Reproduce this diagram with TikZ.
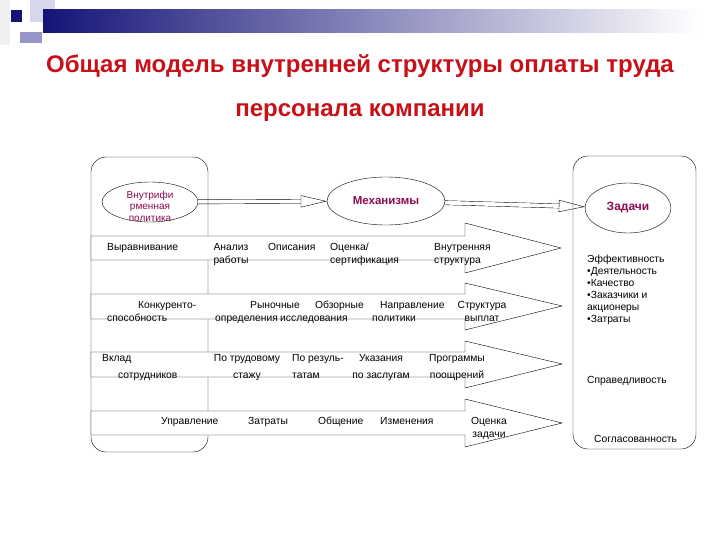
\documentclass[tikz,border=0pt]{standalone}
\usepackage{fontspec}
\setmainfont{Liberation Sans}
\usetikzlibrary{shapes.geometric,arrows.meta}
\definecolor{titlered}{RGB}{200,16,24}
\definecolor{magtext}{RGB}{139,10,80}
\definecolor{navyband}{RGB}{20,20,120}
\definecolor{midband}{RGB}{165,165,190}
\definecolor{lavender}{RGB}{215,215,235}
\definecolor{greyblue}{RGB}{150,150,200}
\begin{document}
\begin{tikzpicture}[x=1pt, y=-1pt,
    lbl/.style={font=\fontsize{10.3}{13}\selectfont, inner sep=0pt, anchor=base west, align=left},
    oval/.style={draw, ellipse, inner sep=0pt, text=magtext},
    frame/.style={draw, rounded corners=15pt},
    rowarrow/.style={draw, fill=white},
    hollow/.style={double, double distance=3.8pt, -{Triangle[open, length=26pt, width=12pt]}}]
    \useasboundingbox (0,0) rectangle (720,540);

    % Оформление слайда
    \fill[gray!12] (0,0) rectangle (10,45);
    \fill[lavender] (30,0) rectangle (55,22);
    \shade[left color=navyband, middle color=midband, right color=white] (43,10) rectangle (700,33);
    \fill[navyband] (11,10) rectangle (22,22);
    \fill[greyblue] (20,32) rectangle (42,43);

    % Заголовок
    \node[font=\fontsize{24}{28}\bfseries, text=titlered] (title1) at (360,66) {Общая модель внутренней структуры оплаты труда};
    \node[font=\fontsize{24}{28}\bfseries, text=titlered] (title2) at (360,113) {персонала компании};

    % Овалы
    \node[oval, minimum width=96pt, minimum height=40pt] (pol) at (150,202) {};
    \node[text=magtext, align=center, inner sep=0pt, font=\fontsize{10}{11.5}\selectfont] (poltext) at (150,206) {Внутрифи\\рменная\\политика};
    \node[oval, minimum width=118pt, minimum height=48pt, font=\fontsize{11.5}{13}\bfseries] (mech) at (386,201) {Механизмы};
    \node[oval, minimum width=86pt, minimum height=50pt, font=\fontsize{12}{14}\bfseries] (task) at (628,208) {Задачи};

    % Полые стрелки
    \draw[hollow] (pol) -- (mech);
    \draw[hollow] (mech) -- (task);

    % Рамки
    \draw[frame] (91,157) rectangle (208,452);
    \draw[frame] (573,156) rectangle (696,449);

    % Широкие стрелки
    \draw[rowarrow] (91,236) -- (465,236) -- (465,223) -- (561,248) -- (465,273) -- (465,260) -- (91,260) -- cycle;
    \draw[rowarrow] (91,294) -- (465,294) -- (465,283) -- (562,306) -- (465,330) -- (465,319) -- (91,319) -- cycle;
    \draw[rowarrow] (91,352) -- (465,352) -- (465,341) -- (562,364) -- (465,388) -- (465,377) -- (91,377) -- cycle;
    \draw[rowarrow] (91,411) -- (465,411) -- (465,399) -- (562,423) -- (465,447) -- (465,435) -- (91,435) -- cycle;

    % Ряд 1
    \node[lbl] (align) at (107,250) {Выравнивание};
    \node[lbl, anchor=base, align=center] (jobs) at (231,263) {Анализ\\работы};
    \node[lbl] (descr) at (268,250) {Описания};
    \node[lbl] (cert) at (330,263) {Оценка/\\сертификация};
    \node[lbl] (inner) at (434,263) {Внутренняя\\структура};

    % Ряд 2
    \node[lbl] (comp) at (107,321.5) {\hspace*{31pt}Конкуренто-\\способность};
    \node[lbl] (market) at (215,321.5) {\hspace*{35pt}Рыночные\\определения};
    \node[lbl] (survey) at (280,321.5) {\hspace*{35pt}Обзорные\\исследования};
    \node[lbl] (direct) at (372,321.5) {\hspace*{8pt}Направление\\политики};
    \node[lbl, anchor=base, align=center] (pay) at (482,321.5) {Структура\\выплат};

    % Ряд 3
    \node[lbl, font=\fontsize{10.3}{16.5}\selectfont] (contrib) at (102,378) {Вклад\\\hspace*{16pt}сотрудников};
    \node[lbl, font=\fontsize{10.3}{16.5}\selectfont, anchor=base, align=center] (senior) at (247,378) {По трудовому\\стажу};
    \node[lbl, font=\fontsize{10.3}{16.5}\selectfont] (result) at (292,378) {По резуль-\\татам};
    \node[lbl, font=\fontsize{10.3}{16.5}\selectfont, anchor=base, align=center] (merit) at (381,378) {Указания\\по заслугам};
    \node[lbl, font=\fontsize{10.3}{16.5}\selectfont, anchor=base, align=center] (bonus) at (457,378) {Программы\\поощрений};

    % Ряд 4
    \node[lbl] (manage) at (161,424) {Управление};
    \node[lbl] (costs) at (248,424) {Затраты};
    \node[lbl] (comm) at (318,424) {Общение};
    \node[lbl] (change) at (380,424) {Изменения};
    \node[lbl, anchor=base, align=center] (assess) at (489,437) {Оценка\\задачи};

    % Задачи
    \node[lbl, font=\fontsize{10.3}{12}\selectfont] (eff) at (587,322.5) {Эффективность\\•Деятельность\\•Качество\\•Заказчики и\\акционеры\\•Затраты};
    \node[lbl] (fair) at (587,383.5) {Справедливость};
    \node[lbl] (cons) at (594,442.5) {Согласованность};
\end{tikzpicture}
\end{document}
